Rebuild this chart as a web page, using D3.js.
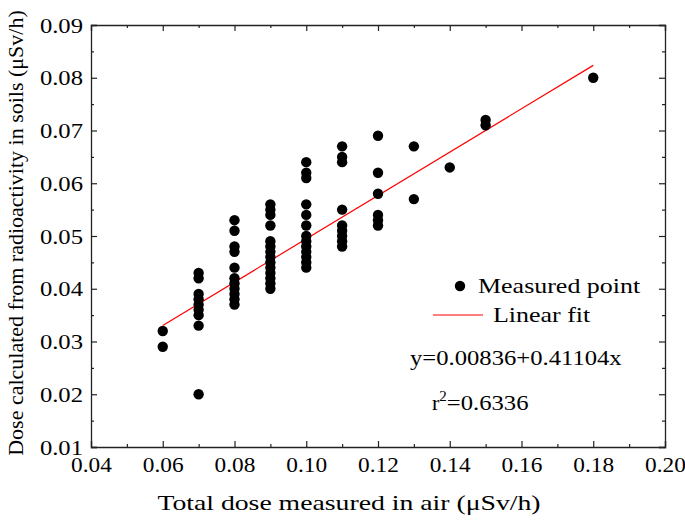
<!DOCTYPE html>
<html><head><meta charset="utf-8">
<script src="https://cdn.jsdelivr.net/npm/d3@7"></script>
<style>body{margin:0;background:#fff}svg{display:block}text{font-family:"Liberation Serif","Times New Roman",serif}</style>
</head><body>
<svg id="c" width="685" height="520"></svg>
<script>
const xs06 = [0.032, 0.029];
const xs07 = [0.043, 0.042, 0.039, 0.038, 0.037, 0.036, 0.035, 0.033, 0.020];
const xs08 = [0.053, 0.051, 0.048, 0.047, 0.044, 0.042, 0.041, 0.040, 0.039, 0.038, 0.037];
const xs09 = [0.056, 0.055, 0.054, 0.052, 0.049, 0.048, 0.047, 0.046, 0.045, 0.044, 0.043, 0.042, 0.041, 0.040];
const xs10 = [0.064, 0.062, 0.061, 0.056, 0.054, 0.052, 0.050, 0.049, 0.048, 0.047, 0.046, 0.045, 0.044];
const xs11 = [0.067, 0.065, 0.064, 0.055, 0.052, 0.051, 0.050, 0.049, 0.048];
const xs12 = [0.069, 0.062, 0.058, 0.054, 0.053, 0.052];
const xs13 = [0.067, 0.057];
const xs14 = [0.063];
const xs15 = [0.072, 0.071];
const xs18 = [0.080];
const airValues = [0.06, 0.07, 0.08, 0.09, 0.10, 0.11, 0.12, 0.13, 0.14, 0.15, 0.18];
const soilColumns = [xs06, xs07, xs08, xs09, xs10, xs11, xs12, xs13, xs14, xs15, xs18];
const fitIntercept = 0.00836, fitSlope = 0.41104;
const fitRange = [0.06, 0.18];
const xTicks = [0.04, 0.06, 0.08, 0.10, 0.12, 0.14, 0.16, 0.18, 0.20];
const yTicks = [0.01, 0.02, 0.03, 0.04, 0.05, 0.06, 0.07, 0.08, 0.09];

const points = [];
airValues.forEach((a, i) => soilColumns[i].forEach(v => points.push([a, v])));

const L = 91, R = 665, T = 25, B = 447;
const FS = 22;
const svg = d3.select("#c");
const x = d3.scaleLinear().domain([0.04, 0.20]).range([L, R]);
const y = d3.scaleLinear().domain([0.01, 0.09]).range([B, T]);

const minorX = d3.range(0.05, 0.20, 0.02);
const minorY = d3.range(0.015, 0.09, 0.01);

function axisGroup(axis, tr) {
  const g = svg.append("g").attr("transform", tr).call(axis);
  g.select(".domain").attr("stroke", "#222").attr("stroke-width", 1.3);
  g.selectAll(".tick line").attr("stroke", "#222").attr("stroke-width", 1.2);
  return g;
}
function stretch(sel, k) {
  sel.each(function() {
    const w = this.getComputedTextLength();
    d3.select(this).attr("textLength", w * k).attr("lengthAdjust", "spacingAndGlyphs");
  });
}
// bottom
const gb = axisGroup(d3.axisBottom(x).tickValues(xTicks).tickSize(-6).tickPadding(9).tickFormat(d3.format(".2f")), `translate(0,${B})`);
gb.selectAll("text").attr("font-size", FS).attr("fill", "#000").attr("font-family", "Liberation Serif");
stretch(gb.selectAll("text"), 1.06);
axisGroup(d3.axisBottom(x).tickValues(minorX).tickSize(-3).tickFormat(""), `translate(0,${B})`).select(".domain").remove();
// top
axisGroup(d3.axisTop(x).tickValues(xTicks).tickSize(-6).tickFormat(""), `translate(0,${T})`);
axisGroup(d3.axisTop(x).tickValues(minorX).tickSize(-3).tickFormat(""), `translate(0,${T})`).select(".domain").remove();
// left
const gl = axisGroup(d3.axisLeft(y).tickValues(yTicks).tickSize(-6).tickPadding(8).tickFormat(d3.format(".2f")), `translate(${L},0)`);
gl.selectAll("text").attr("font-size", FS).attr("fill", "#000").attr("font-family", "Liberation Serif");
stretch(gl.selectAll("text"), 1.12);
axisGroup(d3.axisLeft(y).tickValues(minorY).tickSize(-3).tickFormat(""), `translate(${L},0)`).select(".domain").remove();
// right
axisGroup(d3.axisRight(y).tickValues(yTicks).tickSize(-6).tickFormat(""), `translate(${R},0)`);
axisGroup(d3.axisRight(y).tickValues(minorY).tickSize(-3).tickFormat(""), `translate(${R},0)`).select(".domain").remove();

// fit line
svg.append("line")
  .attr("x1", x(fitRange[0])).attr("y1", y(fitIntercept + fitSlope * fitRange[0]))
  .attr("x2", x(fitRange[1])).attr("y2", y(fitIntercept + fitSlope * fitRange[1]))
  .attr("stroke", "#ff0000").attr("stroke-width", 1.2);

// points
svg.append("g").selectAll("circle").data(points).join("circle")
  .attr("cx", d => x(d[0])).attr("cy", d => y(d[1])).attr("r", 5.2).attr("fill", "#000");

// legend
svg.append("circle").attr("cx", 460).attr("cy", 286).attr("r", 5.2).attr("fill", "#000");
const t1 = svg.append("text").attr("x", 478).attr("y", 293).attr("font-size", FS).text("Measured point");
svg.append("line").attr("x1", 433).attr("x2", 483).attr("y1", 315).attr("y2", 315).attr("stroke", "#ff0000").attr("stroke-width", 1.2);
const t2 = svg.append("text").attr("x", 493).attr("y", 322).attr("font-size", FS).text("Linear fit");
stretch(t1, 1.18); stretch(t2, 1.18);

const eq = svg.append("text").attr("x", 410).attr("y", 365).attr("font-size", FS).text("y=0.00836+0.41104x");
stretch(eq, 1.12);
const r2 = svg.append("text").attr("x", 432).attr("y", 410).attr("font-size", FS);
r2.append("tspan").text("r");
r2.append("tspan").attr("dy", -9).attr("font-size", 15).text("2");
const r2b = r2.append("tspan").attr("dy", 9).text("=0.6336");
stretch(r2b, 1.12);

// axis titles
const xt = svg.append("text").attr("x", 349).attr("y", 510).attr("text-anchor", "middle").attr("font-size", FS)
  .text("Total dose measured in air (μSv/h)");
stretch(xt, 1.26);
svg.append("text").attr("transform", `translate(23,233) rotate(-90)`).attr("text-anchor", "middle").attr("font-size", FS)
  .text("Dose calculated from radioactivity in soils (μSv/h)");
</script>
</body></html>
